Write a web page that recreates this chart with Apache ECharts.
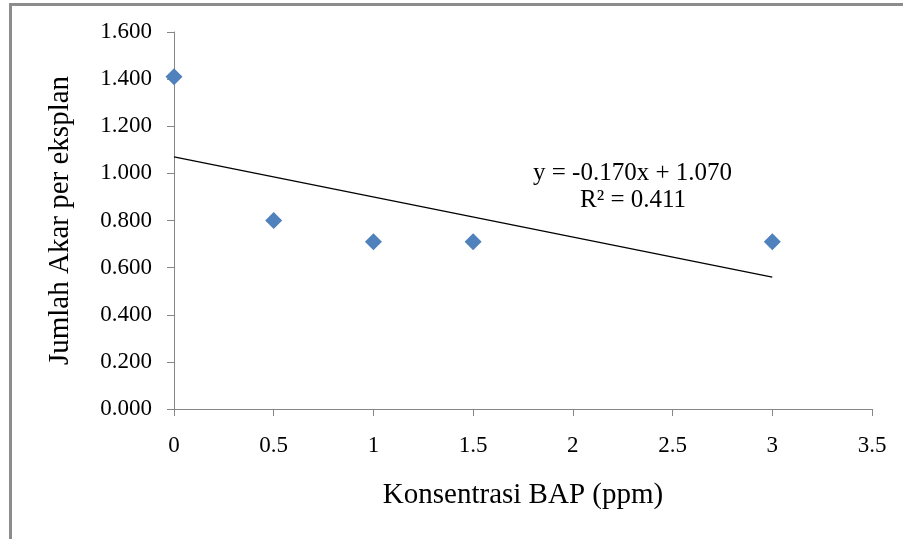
<!DOCTYPE html>
<html>
<head>
<meta charset="utf-8">
<script src="https://cdn.jsdelivr.net/npm/echarts@6/dist/echarts.min.js"></script>
<style>
html,body{margin:0;padding:0;background:#fff;}
#wrap{position:relative;width:903px;height:539px;overflow:hidden;}
#chart{position:absolute;left:0;top:0;width:903px;height:539px;}
#frame{position:absolute;left:9px;top:3px;width:903px;height:600px;border-top:3px solid #8c8c8c;border-left:3px solid #8c8c8c;box-sizing:border-box;pointer-events:none;}
</style>
</head>
<body>
<div id="wrap"><div id="chart"></div><div id="frame"></div></div>
<script>
var xValues = [0, 0.5, 1, 1.5, 3];
var yValues = [1.41, 0.80, 0.71, 0.71, 0.71];
var trendSlope = -0.170;
var trendIntercept = 1.070;
var trendRange = [0, 3];
var equationText = 'y = -0.170x + 1.070';
var r2Text = 'R\u00B2 = 0.411';
var xTitle = 'Konsentrasi BAP (ppm)';
var yTitle = 'Jumlah Akar per eksplan';

var scatterData = xValues.map(function (x, i) { return [x, yValues[i]]; });
var trendData = trendRange.map(function (x) { return [x, trendSlope * x + trendIntercept]; });

var font = 'Liberation Serif, Times New Roman, serif';
var axisGrey = '#868686';
var chart = echarts.init(document.getElementById('chart'), null, {renderer: 'canvas'});
chart.setOption({
  animation: false,
  backgroundColor: '#ffffff',
  grid: {left: 174, right: 31, top: 32, bottom: 130, containLabel: false},
  xAxis: {
    type: 'value', min: 0, max: 3.5, interval: 0.5,
    name: xTitle, nameLocation: 'middle', nameGap: 72,
    nameTextStyle: {fontFamily: font, fontSize: 29, color: '#000'},
    axisLine: {show: true, lineStyle: {color: axisGrey, width: 1}},
    axisTick: {show: true, length: 7, lineStyle: {color: axisGrey}},
    axisLabel: {fontFamily: font, fontSize: 23, color: '#000', margin: 25,
      formatter: function (v) { return String(v); }},
    splitLine: {show: false}
  },
  yAxis: {
    type: 'value', min: 0, max: 1.6, interval: 0.2,
    name: yTitle, nameLocation: 'middle', nameGap: 99, nameRotate: 90,
    nameTextStyle: {fontFamily: font, fontSize: 29, color: '#000'},
    axisLine: {show: true, lineStyle: {color: axisGrey, width: 1}},
    axisTick: {show: true, length: 7, lineStyle: {color: axisGrey}},
    axisLabel: {fontFamily: font, fontSize: 23, color: '#000', margin: 22,
      formatter: function (v) { return v.toFixed(3); }},
    splitLine: {show: false}
  },
  series: [
    {
      type: 'line', data: trendData, showSymbol: false, symbol: 'none',
      lineStyle: {color: '#000', width: 1.3}, z: 2, silent: true
    },
    {
      type: 'scatter', data: scatterData, symbol: 'diamond', symbolSize: 17,
      itemStyle: {color: '#4F81BD', opacity: 1}, z: 3
    }
  ],
  graphic: [
    {type: 'text', left: 533, top: 161, style: {text: equationText, font: '25px ' + font, fill: '#000'}},
    {type: 'text', left: 580, top: 188, style: {text: r2Text, font: '25px ' + font, fill: '#000'}}
  ]
});
</script>
</body>
</html>
